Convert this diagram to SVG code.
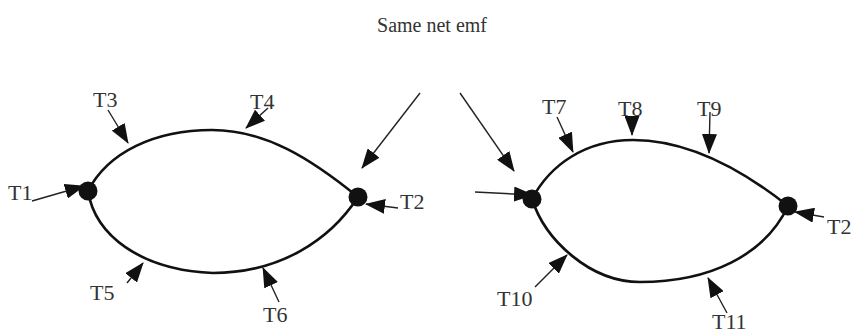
<svg xmlns="http://www.w3.org/2000/svg" width="856" height="336" viewBox="0 0 856 336">
<defs>
<style>
.loop{fill:none;stroke:#111;stroke-width:2.6}
.node{fill:#111}
.arr{fill:none;stroke:#222;stroke-width:1.4;marker-end:url(#ah)}
.lbl{font-family:"Liberation Serif","DejaVu Serif",serif;font-size:22px;fill:#333}
.title{font-family:"Liberation Serif","DejaVu Serif",serif;font-size:20px;fill:#333;text-anchor:middle}
</style>
<marker id="ah" markerUnits="userSpaceOnUse" markerWidth="20" markerHeight="15" refX="19" refY="7.5" orient="auto">
<path d="M0,0 L20,7.5 L0,15 z" fill="#111"/>
</marker>
</defs>
<rect width="856" height="336" fill="#fff"/>
<g id="title"><text class="title" x="432" y="32">Same net emf</text></g>
<g id="loop-left">
<path class="loop" d="M88,191 C108,152 155,130 212,130 C265,130 310,158 358,197"/>
<path class="loop" d="M88,191 C95,235 140,270 213,273 C280,273 330,240 358,197"/>
</g>
<g id="loop-right">
<path class="loop" d="M532,199 C550,165 585,140 633,140 C680,140 730,160 788,206"/>
<path class="loop" d="M532,199 C545,240 590,282 640,282 C710,282 765,255 788,206"/>
</g>
<g id="node-L1"><circle class="node" cx="88" cy="191" r="9.5"/></g>
<g id="node-L2"><circle class="node" cx="358" cy="197" r="9.5"/></g>
<g id="node-R1"><circle class="node" cx="532" cy="199" r="9.5"/></g>
<g id="node-R2"><circle class="node" cx="788" cy="206" r="9.5"/></g>
<g id="connectors">
<line class="arr" x1="420" y1="93" x2="362" y2="168"/>
<line class="arr" x1="460" y1="93" x2="514" y2="171"/>
<line class="arr" x1="32" y1="201" x2="84" y2="186"/>
<line class="arr" x1="398" y1="208" x2="366" y2="204"/>
<line class="arr" x1="108" y1="110" x2="128" y2="143"/>
<line class="arr" x1="268" y1="108" x2="246" y2="128"/>
<line class="arr" x1="127" y1="283" x2="143" y2="263"/>
<line class="arr" x1="279" y1="302" x2="263" y2="268"/>
<line class="arr" x1="557" y1="117" x2="573" y2="152"/>
<line class="arr" x1="632" y1="116" x2="632" y2="135"/>
<line class="arr" x1="710" y1="112" x2="709" y2="153"/>
<line class="arr" x1="535" y1="287" x2="567" y2="255"/>
<line class="arr" x1="727" y1="313" x2="708" y2="278"/>
<line class="arr" x1="475" y1="192" x2="533" y2="195"/>
<line class="arr" x1="824" y1="217" x2="795" y2="212"/>
</g>
<g id="labels">
<text class="lbl" x="93" y="107">T3</text>
<text class="lbl" x="250" y="109">T4</text>
<text class="lbl" x="8" y="200">T1</text>
<text class="lbl" x="400" y="209">T2</text>
<text class="lbl" x="90" y="300">T5</text>
<text class="lbl" x="263" y="322">T6</text>
<text class="lbl" x="542" y="114">T7</text>
<text class="lbl" x="618" y="116">T8</text>
<text class="lbl" x="697" y="116">T9</text>
<text class="lbl" x="497" y="306">T10</text>
<text class="lbl" x="712" y="329">T11</text>
<text class="lbl" x="827" y="234">T2</text>
</g>
</svg>
